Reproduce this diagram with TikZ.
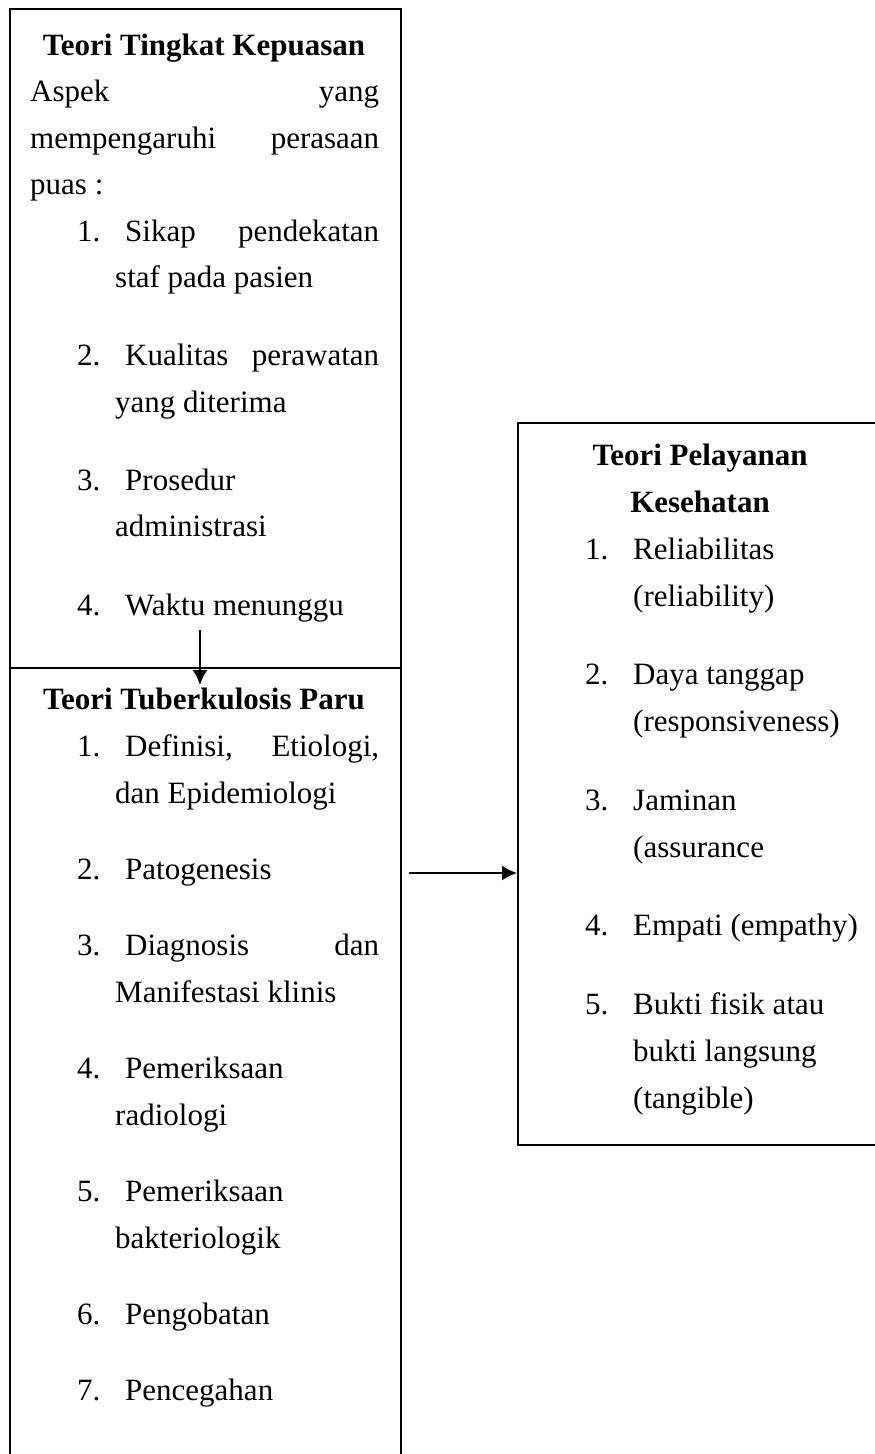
\documentclass[tikz,border=0pt]{standalone}
\usepackage{fontspec}
\setmainfont{Liberation Serif}
\usetikzlibrary{arrows.meta}
\tikzset{
  kotak/.style={draw,rectangle,inner sep=0pt,anchor=north west,line width=2pt},
  baris/.style={anchor=base west,inner sep=0pt,font=\fontsize{31}{37}\selectfont},
  judul/.style={anchor=base,inner sep=0pt,font=\fontsize{31}{37}\selectfont\bfseries},
}
\newcommand{\rata}[3]{\hbox to #1{#2\hfill #3}}
\begin{document}
\begin{tikzpicture}[x=1pt,y=-1pt,>={Latex[length=15pt,width=15pt]}]
	\useasboundingbox (0,0) rectangle (875,1454);
	\clip (0,0) rectangle (875,1454);
	% kotak
	\node[kotak,minimum width=391pt,minimum height=659pt] (kepuasan) at (9,8) {};
	\node[kotak,minimum width=391pt,minimum height=830pt] (tbc) at (9,667) {};
	\node[kotak,minimum width=400pt,minimum height=722pt] (pelayanan) at (517,422) {};
	% teori tingkat kepuasan
	\node[judul] (j1) at (204,55) {Teori Tingkat Kepuasan};
	\node[baris] (a1) at (30,101.5) {\rata{349pt}{Aspek}{yang}};
	\node[baris] (a2) at (30,148) {\rata{349pt}{mempengaruhi}{perasaan}};
	\node[baris] (a3) at (30,194.5) {puas :};
	\node[baris] (k1) at (77,241) {1.};
	\node[baris] at (125,241) {\rata{254pt}{Sikap}{pendekatan}};
	\node[baris] at (115,287.5) {staf pada pasien};
	\node[baris] (k2) at (77,365.7) {2.};
	\node[baris] at (125,365.7) {\rata{254pt}{Kualitas}{perawatan}};
	\node[baris] at (115,412.2) {yang diterima};
	\node[baris] (k3) at (77,490.3) {3.};
	\node[baris] at (125,490.3) {Prosedur};
	\node[baris] at (115,536.8) {administrasi};
	\node[baris] (k4) at (77,615) {4.};
	\node[baris] at (125,615) {Waktu menunggu};
	% teori tuberkulosis paru
	\node[judul] (j2) at (204,709) {Teori Tuberkulosis Paru};
	\node[baris] (t1) at (77,756) {1.};
	\node[baris] at (125,756) {\rata{254pt}{Definisi,}{Etiologi,}};
	\node[baris] at (115,803) {dan Epidemiologi};
	\node[baris] (t2) at (77,879) {2.};
	\node[baris] at (125,879) {Patogenesis};
	\node[baris] (t3) at (77,955) {3.};
	\node[baris] at (125,955) {\rata{254pt}{Diagnosis}{dan}};
	\node[baris] at (115,1002) {Manifestasi klinis};
	\node[baris] (t4) at (77,1078) {4.};
	\node[baris] at (125,1078) {Pemeriksaan};
	\node[baris] at (115,1125) {radiologi};
	\node[baris] (t5) at (77,1201) {5.};
	\node[baris] at (125,1201) {Pemeriksaan};
	\node[baris] at (115,1248) {bakteriologik};
	\node[baris] (t6) at (77,1324) {6.};
	\node[baris] at (125,1324) {Pengobatan};
	\node[baris] (t7) at (77,1400) {7.};
	\node[baris] at (125,1400) {Pencegahan};
	% teori pelayanan kesehatan
	\node[judul] (j3) at (700,465) {Teori Pelayanan};
	\node[judul] (j3b) at (700,512) {Kesehatan};
	\foreach \n/\y/\isi in {1/559/Reliabilitas, 2/684.5/Daya tanggap, 3/810/Jaminan, 4/935.5/Empati (empathy), 5/1014/Bukti fisik atau}
		\node[baris] (p\n) at (585,\y) {\n.} node[baris] at (633,\y) {\isi};
	\node[baris] at (633,606) {(reliability)};
	\node[baris] at (633,731.5) {(responsiveness)};
	\node[baris] at (633,857) {(assurance};
	\node[baris] at (633,1061) {bukti langsung};
	\node[baris] at (633,1108) {(tangible)};
	% panah
	\coordinate (panah1) at (200,630);
	\coordinate (panah1b) at (200,685);
	\coordinate (panah2) at (409,873);
	\draw[->,line width=2pt] (panah1) -- (panah1b);
	\draw[->,line width=2pt] (panah2) -- (pelayanan.west |- panah2);
\end{tikzpicture}
\end{document}
